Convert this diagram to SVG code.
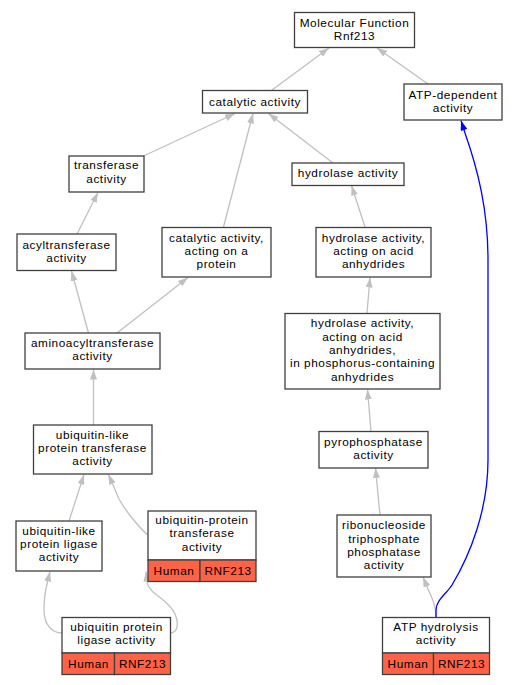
<svg xmlns="http://www.w3.org/2000/svg" width="519" height="685" viewBox="0 0 519 685">
<defs>
<style>
rect{fill:#fff;stroke:#404040;stroke-width:1.3}
rect.r{fill:#ff6347}
text{font-family:"Liberation Sans",Arial,sans-serif;font-size:11.8px;letter-spacing:0.55px;text-anchor:middle;fill:#000}
.e{fill:none;stroke:#c0c0c0;stroke-width:1.3}
.b{fill:none;stroke:#0000ff;stroke-width:1.3}
</style>
<marker id="ag" viewBox="0 0 10 7" refX="10" refY="3.5" markerWidth="10" markerHeight="7" markerUnits="userSpaceOnUse" orient="auto"><path d="M0,0 L10,3.5 L0,7 z" fill="#c0c0c0"/></marker>
<marker id="ab" viewBox="0 0 10 7" refX="10" refY="3.5" markerWidth="10" markerHeight="7" markerUnits="userSpaceOnUse" orient="auto"><path d="M0,0 L10,3.5 L0,7 z" fill="#0000ff"/></marker>
</defs>
<rect x="0" y="0" width="519" height="685" style="fill:#fff;stroke:none"/>
<g id="connectors">
<path class="e" marker-end="url(#ag)" d="M272,90 L329,48"/>
<path class="e" marker-end="url(#ag)" d="M428,84 L377,48"/>
<path class="e" marker-end="url(#ag)" d="M143.5,156 L235,113.5"/>
<path class="e" marker-end="url(#ag)" d="M223.5,227 L253,113.5"/>
<path class="e" marker-end="url(#ag)" d="M333,163 L268.5,113.5"/>
<path class="e" marker-end="url(#ag)" d="M77,234 L98,192.5"/>
<path class="e" marker-end="url(#ag)" d="M365,227 L351.5,185.5"/>
<path class="e" marker-end="url(#ag)" d="M88.5,333 L71.5,271"/>
<path class="e" marker-end="url(#ag)" d="M117,333 L188,277.5"/>
<path class="e" marker-end="url(#ag)" d="M367,313 L370,277.5"/>
<path class="e" marker-end="url(#ag)" d="M93.5,425 L93.5,369.5"/>
<path class="e" marker-end="url(#ag)" d="M371,431.5 L367.5,389.5"/>
<path class="e" marker-end="url(#ag)" d="M69,521 L84,474.5"/>
<path class="e" marker-end="url(#ag)" d="M147.5,535 C140,528 126,512 119,499 L108.5,474.5"/>
<path class="e" marker-end="url(#ag)" d="M380,515 L375.5,468"/>
<path class="e" marker-end="url(#ag)" d="M62,633 C52,633 44,625 44,610 C44,598 45,592 47,584 L50,571.5"/>
<path class="e" marker-end="url(#ag)" d="M170.5,633 C178,632 179,624 175,614 C171,604 160,598 153,592 C149,588 147.5,586 147,582 L146,571.5"/>
<path class="e" marker-end="url(#ag)" d="M436,617 C436,606 432,598 428,589 L423,577"/>
<path class="b" marker-end="url(#ab)" d="M436,617 L436,610 C436,600 448,592 452,585 C470,555 488,510 488,460 L488,260 C488,210 478,170 465,133 L461,120.5"/>
</g>
<g id="n_mf"><rect x="294.5" y="12.5" width="120" height="35"/><text x="354.5" y="27">Molecular Function</text><text x="354.5" y="40.3">Rnf213</text></g>
<g id="n_catalytic"><rect x="202.5" y="90.5" width="105" height="22.5"/><text x="255" y="105.5">catalytic activity</text></g>
<g id="n_atpdep"><rect x="404" y="84" width="98" height="36"/><text x="453" y="98.5">ATP-dependent</text><text x="453" y="111.8">activity</text></g>
<g id="n_transferase"><rect x="69" y="156" width="75" height="36"/><text x="106.5" y="169.3">transferase</text><text x="106.5" y="182.6">activity</text></g>
<g id="n_hydrolase"><rect x="292" y="163" width="112" height="22.5"/><text x="348" y="177">hydrolase activity</text></g>
<g id="n_acyl"><rect x="17" y="234" width="99" height="36.5"/><text x="66.5" y="248.5">acyltransferase</text><text x="66.5" y="261.8">activity</text></g>
<g id="n_catprot"><rect x="162" y="227.5" width="109" height="49.5"/><text x="216.5" y="241.5">catalytic activity,</text><text x="216.5" y="254.8">acting on a</text><text x="216.5" y="268.1">protein</text></g>
<g id="n_acidanh"><rect x="316" y="227.5" width="115" height="49.5"/><text x="373.5" y="241.5">hydrolase activity,</text><text x="373.5" y="254.8">acting on acid</text><text x="373.5" y="268.1">anhydrides</text></g>
<g id="n_aminoacyl"><rect x="25" y="333" width="135" height="36"/><text x="92.5" y="346.7">aminoacyltransferase</text><text x="92.5" y="360">activity</text></g>
<g id="n_phos"><rect x="285" y="313.5" width="155" height="75.5"/><text x="362.5" y="327.3">hydrolase activity,</text><text x="362.5" y="340.6">acting on acid</text><text x="362.5" y="353.9">anhydrides,</text><text x="362.5" y="367.2">in phosphorus-containing</text><text x="362.5" y="380.5">anhydrides</text></g>
<g id="n_ubltrans"><rect x="33.5" y="425" width="118.5" height="49"/><text x="92.5" y="438.8">ubiquitin-like</text><text x="92.5" y="452.1">protein transferase</text><text x="92.5" y="465.4">activity</text></g>
<g id="n_pyro"><rect x="319" y="431.5" width="109" height="36.5"/><text x="373.5" y="445.5">pyrophosphatase</text><text x="373.5" y="458.8">activity</text></g>
<g id="n_ublligase"><rect x="16" y="521" width="86" height="50"/><text x="59" y="534.5">ubiquitin-like</text><text x="59" y="547.8">protein ligase</text><text x="59" y="561.1">activity</text></g>
<g id="n_ubprottrans"><rect x="148" y="511" width="108" height="49"/><rect class="r" x="148" y="560" width="52" height="21.5"/><rect class="r" x="200" y="560" width="56" height="21.5"/><text x="202" y="524">ubiquitin-protein</text><text x="202" y="537.3">transferase</text><text x="202" y="550.6">activity</text><text x="174" y="575">Human</text><text x="228" y="575">RNF213</text></g>
<g id="n_ribo"><rect x="337" y="515" width="94" height="62"/><text x="384" y="529.3">ribonucleoside</text><text x="384" y="542.6">triphosphate</text><text x="384" y="555.9">phosphatase</text><text x="384" y="569.2">activity</text></g>
<g id="n_ubligase"><rect x="62" y="617.5" width="108.5" height="35.5"/><rect class="r" x="62" y="653" width="52.5" height="21.5"/><rect class="r" x="114.5" y="653" width="56" height="21.5"/><text x="116.5" y="630.7">ubiquitin protein</text><text x="116.5" y="644">ligase activity</text><text x="88.5" y="667.5">Human</text><text x="142.5" y="667.5">RNF213</text></g>
<g id="n_atphyd"><rect x="382.5" y="617.5" width="107" height="35.5"/><rect class="r" x="382.5" y="653" width="51" height="21.5"/><rect class="r" x="433.5" y="653" width="56" height="21.5"/><text x="436" y="630.7">ATP hydrolysis</text><text x="436" y="644">activity</text><text x="408" y="667.5">Human</text><text x="461.5" y="667.5">RNF213</text></g>
</svg>
